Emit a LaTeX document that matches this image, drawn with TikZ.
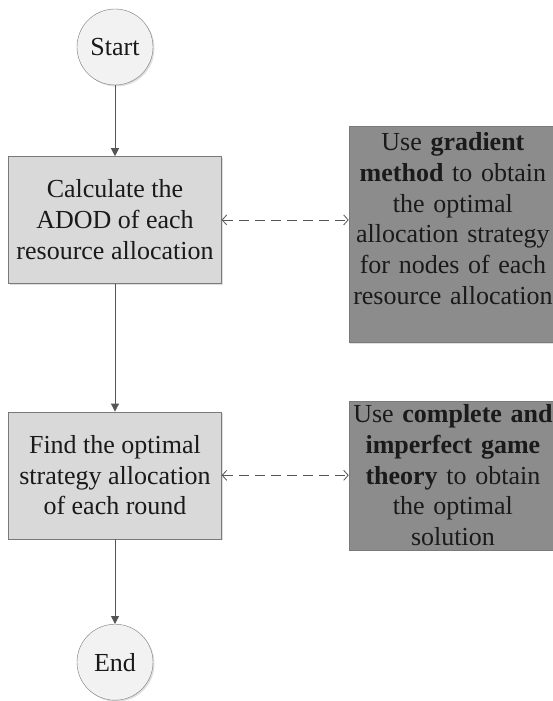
\documentclass[tikz,border=0pt]{standalone}
\usepackage{fontspec}
\setmainfont{Liberation Serif}
\usetikzlibrary{arrows.meta,positioning,shadows}
\definecolor{termfill}{HTML}{F2F2F2}
\definecolor{stepfill}{HTML}{D9D9D9}
\definecolor{methodfill}{HTML}{8C8C8C}
\definecolor{edgegray}{HTML}{7A7A7A}
\definecolor{flowgray}{HTML}{555555}
\definecolor{inkgray}{HTML}{1A1A1A}
\tikzset{
  boxfont/.style={font=\fontsize{26}{30.8}\selectfont,text=inkgray},
  softshadow/.style={drop shadow={shadow xshift=1.5pt,shadow yshift=-1.5pt,opacity=0.25,fill=black!50}},
  termnode/.style={circle,draw=edgegray,fill=termfill,minimum size=76pt,inner sep=0pt,boxfont,softshadow},
  stepnode/.style={draw=edgegray,fill=stepfill,minimum width=213pt,minimum height=127pt,inner sep=0pt,align=center,boxfont,softshadow},
  methodnode/.style={draw=edgegray,fill=methodfill,text width=206pt,inner xsep=1pt,inner ysep=0pt,align=center,boxfont,softshadow},
  flowarrow/.style={-{Triangle[length=8pt,width=8pt]},draw=flowgray,line width=0.8pt},
  linkarrow/.style={{Straight Barb[length=4.5pt,width=10pt]}-{Straight Barb[length=4.5pt,width=10pt]},draw=flowgray,line width=0.8pt,dash pattern=on 10pt off 6pt},
}
\begin{document}
\begin{tikzpicture}[x=1pt,y=-1pt]
    \useasboundingbox (0,0) rectangle (553,701);
    % main flow on the left
    \node[termnode] (start) at (115,47) {Start};
    \node[stepnode,below=71pt of start] (calc) {Calculate the\\ADOD of each\\resource allocation};
    \node[stepnode,below=128pt of calc] (find) {Find the optimal\\strategy allocation\\of each round};
    \node[termnode,below=85pt of find] (end) {End};
    % methods on the right
    \node[methodnode,right=127pt of calc,yshift=-14.5pt,text height=24pt,text depth=192pt] (grad)
      {Use \textbf{gradient}\\\textbf{method} to obtain\\the optimal\\allocation strategy\\for nodes of each\\resource allocation};
    \node[methodnode,right=127pt of find,minimum height=149pt] (game)
      {Use \textbf{complete and}\\\textbf{imperfect game}\\\textbf{theory} to obtain\\the optimal\\solution};
    \draw[flowarrow] (start) -- (calc);
    \draw[flowarrow] (calc) -- (find);
    \draw[flowarrow] (find) -- (end);
    \draw[linkarrow] (calc.east) -- (calc.east -| grad.west);
    \draw[linkarrow] (find) -- (game);
  \end{tikzpicture}
\end{document}
